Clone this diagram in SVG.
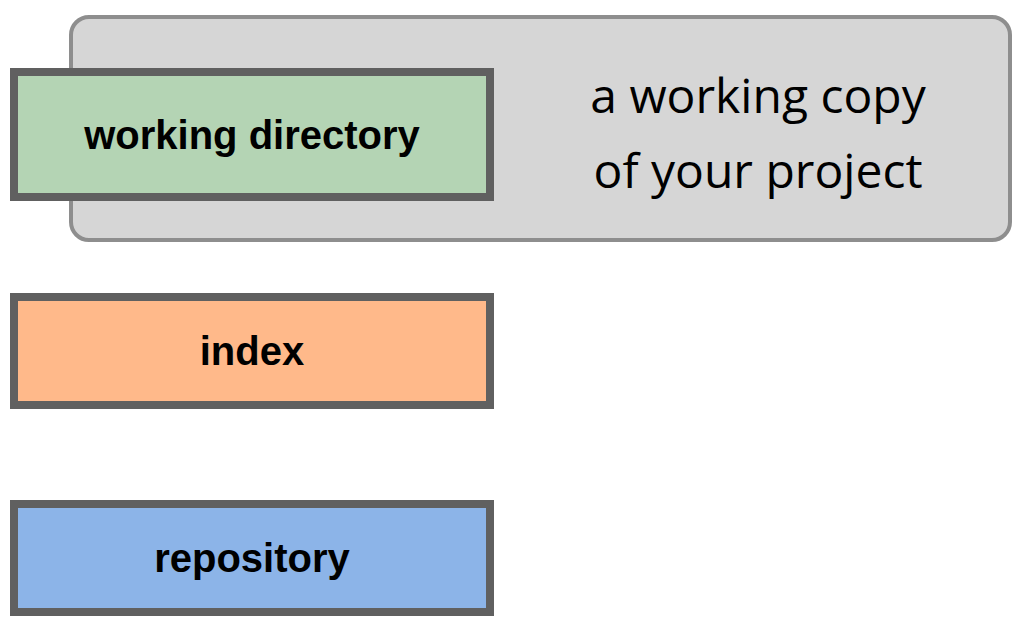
<svg xmlns="http://www.w3.org/2000/svg" width="1027" height="629" viewBox="0 0 1027 629">
<style>
.box{stroke:#606060;stroke-width:8}
.lbl{font-family:"Liberation Sans",Arial,sans-serif;font-weight:bold;font-size:40px;fill:#000;text-anchor:middle}
.note{font-family:"Open Sans","DejaVu Sans",sans-serif;font-size:48px;fill:#000;text-anchor:middle}
</style>
<rect width="1027" height="629" fill="#fff"/>
<g id="callout">
<rect x="71" y="17" width="939" height="223" rx="18" fill="#d6d6d6" stroke="#8e8e8e" stroke-width="4"/>
<text class="note" x="758" y="113">a working copy</text>
<text class="note" x="758" y="188">of your project</text>
</g>
<g id="working-directory">
<rect class="box" x="14" y="72" width="476" height="125" fill="#b4d4b4"/>
<text class="lbl" x="252" y="149">working directory</text>
</g>
<g id="index">
<rect class="box" x="14" y="297" width="476" height="108" fill="#ffb98a"/>
<text class="lbl" x="252" y="365">index</text>
</g>
<g id="repository">
<rect class="box" x="14" y="504" width="476" height="108" fill="#8cb4e8"/>
<text class="lbl" x="252" y="572">repository</text>
</g>
<g id="connectors"/>
</svg>
